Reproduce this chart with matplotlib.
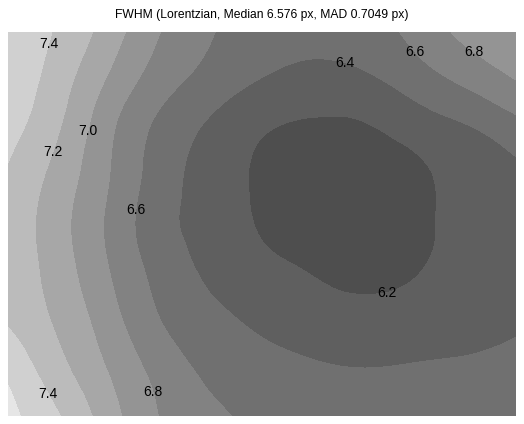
import numpy as np
import matplotlib
matplotlib.use("Agg")
import matplotlib.pyplot as plt
import matplotlib.tri as mtri

# sample grid (columns left->right, rows top->bottom), FWHM in px
x_cols = [0, 1, 2, 3, 4, 5, 6, 7, 8, 9, 10]
y_rows = [0, 1, 2, 3, 4, 5, 6, 7, 8]
fwhm = [
    [7.55, 7.37, 7.10, 6.80, 6.61, 6.52, 6.47, 6.52, 6.65, 6.85, 6.95],
    [7.55, 7.29, 6.97, 6.69, 6.52, 6.39, 6.33, 6.36, 6.49, 6.64, 6.80],
    [7.47, 7.21, 6.84, 6.55, 6.36, 6.22, 6.17, 6.18, 6.28, 6.38, 6.52],
    [7.38, 7.12, 6.80, 6.50, 6.30, 6.17, 6.10, 6.10, 6.16, 6.27, 6.36],
    [7.34, 7.07, 6.76, 6.47, 6.31, 6.18, 6.10, 6.09, 6.16, 6.25, 6.32],
    [7.34, 7.10, 6.80, 6.53, 6.36, 6.26, 6.19, 6.14, 6.19, 6.25, 6.30],
    [7.38, 7.16, 6.88, 6.60, 6.45, 6.36, 6.30, 6.28, 6.30, 6.33, 6.37],
    [7.55, 7.26, 6.98, 6.72, 6.55, 6.47, 6.42, 6.40, 6.41, 6.42, 6.44],
    [7.65, 7.41, 7.08, 6.79, 6.64, 6.55, 6.50, 6.48, 6.48, 6.49, 6.50],
]
levels = [6.0, 6.2, 6.4, 6.6, 6.8, 7.0, 7.2, 7.4, 7.6, 7.8]
gray_fill = ["#4e4e4e", "#5f5f5f", "#707070", "#828282", "#949494",
             "#a7a7a7", "#bbbbbb", "#d0d0d0", "#e6e6e6"]
label_levels = [6.2, 6.4, 6.6, 6.8, 7.0, 7.2, 7.4]
# label spots (column, row units)
label_spots = [(0.89, 0.27), (1.54, 2.06), (0.83, 2.48), (2.46, 3.71),
               (6.63, 0.67), (7.97, 0.44), (9.09, 0.54), (7.48, 5.52),
               (0.87, 7.5), (2.82, 7.52)]

X, Y = np.meshgrid(x_cols, y_rows)
Z = np.array(fwhm)

# smooth the surface with matplotlib's cubic refiner
tri = mtri.Triangulation(X.ravel(), Y.ravel())
refiner = mtri.UniformTriRefiner(tri)
tri_fine, z_fine = refiner.refine_field(Z.ravel(), subdiv=4)

fig = plt.figure(figsize=(5.24, 4.24), dpi=100)
ax = fig.add_axes([8 / 524, 8 / 424, 508 / 524, 384 / 424])
ax.tricontourf(tri_fine, z_fine, levels=levels, colors=gray_fill)
cs = ax.tricontour(tri_fine, z_fine, levels=label_levels, colors="none",
                   linewidths=0)
ax.clabel(cs, fmt="%.1f", fontsize=10, colors="black", inline=False,
          manual=label_spots)
for t in cs.labelTexts:
    t.set_rotation(0)
    t.set_family("Liberation Sans")
ax.set_xlim(x_cols[0], x_cols[-1])
ax.set_ylim(y_rows[-1], y_rows[0])
ax.axis("off")
fig.suptitle("FWHM (Lorentzian, Median 6.576 px, MAD 0.7049 px)",
             x=0.5, y=0.965, va="center", fontsize=8.7,
             family="Liberation Sans")

fig.savefig("out.png", dpi=100)
